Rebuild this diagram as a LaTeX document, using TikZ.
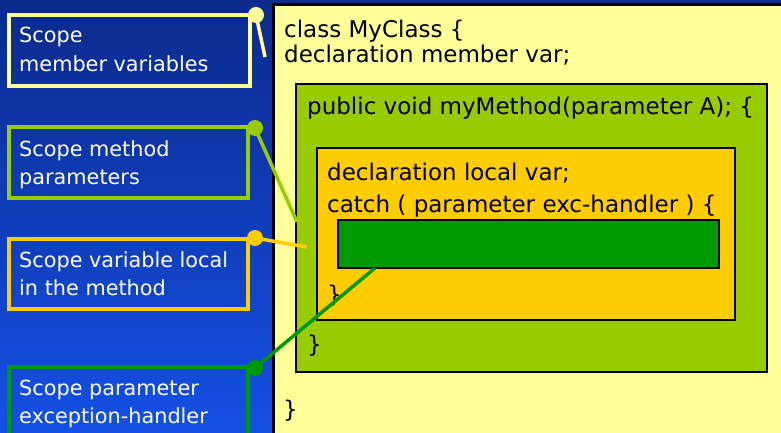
\documentclass[tikz,border=0pt]{standalone}
\usepackage{fontspec}
\setmainfont{DejaVu Sans}
\definecolor{bgtop}{HTML}{0B2A8C}
\definecolor{bgbot}{HTML}{1450E6}
\definecolor{paleyellow}{HTML}{FFFF99}
\definecolor{limegreen}{HTML}{99CC00}
\definecolor{amber}{HTML}{FFCC00}
\definecolor{deepgreen}{HTML}{009900}
\tikzset{
  lbox/.style={draw=#1, line width=4pt, rectangle, inner sep=0pt},
  ltext/.style={anchor=base west, inner sep=0pt, text=white, font=\fontsize{20.8}{24}\selectfont},
  ctext/.style={anchor=base west, inner sep=0pt, text=black, font=\fontsize{23}{27}\selectfont},
  codebox/.style={draw=black, line width=1.5pt, fill=#1},
  dot/.style={circle, fill=#1, minimum size=16pt, inner sep=0pt},
  wire/.style={draw=#1, line width=3.5pt},
}
\begin{document}
\begin{tikzpicture}[x=1pt, y=-1pt]
  % slide background
  \shade[top color=bgtop, bottom color=bgbot] (0,0) rectangle (781,433);
  \useasboundingbox (0,0) rectangle (781,433);

  % nested code blocks
  \begin{scope}
    \clip (0,0) rectangle (781,433);
    \draw[line width=3pt, fill=paleyellow] (273.5,4.5) rectangle (795,445);
  \end{scope}
  \path[codebox=limegreen] (296,84) rectangle (767,372);
  \path[codebox=amber] (317,148) rectangle (735,320);
  \path[codebox=deepgreen] (338,220) rectangle (719,268);
  \coordinate (handler) at (375,268);
  \coordinate (methodwest) at (297,222);
  \coordinate (localpt) at (307,247);

  \node[ctext] (c1) at (284,38) {class MyClass \{};
  \node[ctext] (c2) at (284,63) {declaration member var;};
  \node[ctext] (c3) at (307,115) {public void myMethod(parameter A); \{};
  \node[ctext] (c4) at (327,180) {declaration local var;};
  \node[ctext] (c5) at (327,212) {catch ( parameter exc-handler ) \{};
  \node[ctext] (c6) at (327,302) {\}};
  \node[ctext] (c7) at (307,352) {\}};
  \node[ctext] (c8) at (283,417) {\}};

  % scope labels
  \node[lbox=paleyellow, minimum width=241pt, minimum height=71pt, anchor=north west] (b1) at (7,13) {};
  \node[ltext] (t1a) at (19,43) {Scope};
  \node[ltext] (t1b) at (19,72) {member variables};

  \node[lbox=limegreen, minimum width=239pt, minimum height=71pt, anchor=north west] (b2) at (7,125) {};
  \node[ltext] (t2a) at (19,156) {Scope method};
  \node[ltext] (t2b) at (19,184) {parameters};

  \node[lbox=amber, minimum width=239pt, minimum height=70pt, anchor=north west] (b3) at (7,237) {};
  \node[ltext] (t3a) at (19,267) {Scope variable local};
  \node[ltext] (t3b) at (19,295) {in the method};

  \node[lbox=deepgreen, minimum width=239pt, minimum height=90pt, anchor=north west] (b4) at (7,365) {};
  \node[ltext] (t4a) at (19,395) {Scope parameter};
  \node[ltext] (t4b) at (19,423) {exception-handler};

  % connectors
  \coordinate (memberpt) at (265,57);
  \node[dot=paleyellow] (d1) at (256,15) {};
  \node[dot=limegreen] (d2) at (255,128) {};
  \node[dot=amber] (d3) at (255,238) {};
  \node[dot=deepgreen] (d4) at (255,368) {};
  \draw[wire=paleyellow] (d1.center) -- (memberpt);
  \draw[wire=limegreen] (d2.center) -- (methodwest);
  \draw[wire=amber] (d3.center) -- (localpt);
  \draw[wire=deepgreen] (d4.center) -- (handler);
\end{tikzpicture}
\end{document}
